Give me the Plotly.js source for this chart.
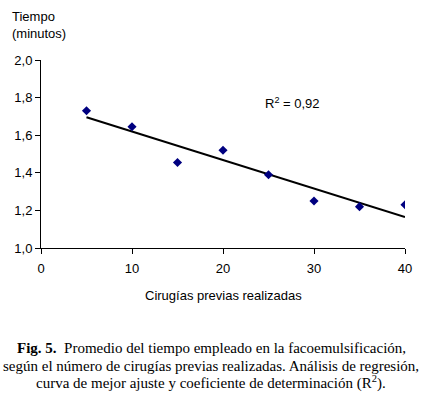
<!DOCTYPE html>
<html><head><meta charset="utf-8">
<script src="https://cdn.plot.ly/plotly-3.0.1.min.js"></script>
<style>html,body{margin:0;padding:0;background:#fff;}#chart{width:423px;height:398px;}</style>
</head><body><div id="chart"></div>
<script>
const cirugias = [5, 10, 15, 20, 25, 30, 35, 40];
const tiempo = [1.73, 1.645, 1.455, 1.52, 1.39, 1.25, 1.22, 1.23];
const xTicks = [0, 10, 20, 30, 40];
const yTicks = [1.0, 1.2, 1.4, 1.6, 1.8, 2.0];
const captionLines = [
  '<b>Fig. 5.</b>  Promedio del tiempo empleado en la facoemulsificación,',
  'según el número de cirugías previas realizadas. Análisis de regresión,',
  'curva de mejor ajuste y coeficiente de determinación (R<sup>2</sup>).'
];

// least-squares trend line from the data
const n = cirugias.length;
const mx = cirugias.reduce((a,b)=>a+b,0)/n;
const my = tiempo.reduce((a,b)=>a+b,0)/n;
let sxy=0, sxx=0;
for (let i=0;i<n;i++){ sxy += (cirugias[i]-mx)*(tiempo[i]-my); sxx += (cirugias[i]-mx)**2; }
const slope = sxy/sxx, icpt = my - slope*mx;
const xFit = [cirugias[0], cirugias[n-1]];
const yFit = xFit.map(x => icpt + slope*x);

const font = {family: 'Liberation Sans, Arial, sans-serif', size: 13, color: '#000'};
const serif = {family: 'Liberation Serif, Times New Roman, serif', size: 15, color: '#000'};

const traces = [
  {x: xFit, y: yFit, mode: 'lines', line: {color: '#000', width: 2}, hoverinfo: 'skip'},
  {x: cirugias, y: tiempo, mode: 'markers', marker: {symbol: 'diamond', color: '#000080', size: 7}}
];

const captionY = [-0.532, -0.626, -0.717];
const captionAnn = captionLines.map((t, i) => ({
  text: t, xref: 'paper', yref: 'paper', x: 0.468, y: captionY[i],
  xanchor: 'center', yanchor: 'middle', align: 'center', showarrow: false, font: serif
}));

const layout = {
  width: 423, height: 398,
  margin: {l: 41, r: 18, t: 60, b: 150},
  paper_bgcolor: '#fff', plot_bgcolor: '#fff',
  showlegend: false,
  separators: ',.',
  font: font,
  xaxis: {range: [0, 40], tickvals: xTicks, ticks: 'outside', ticklen: 5, tickcolor: '#000',
          showline: true, linecolor: '#000', linewidth: 1, showgrid: false, zeroline: false,
          tickfont: font, ticklabelstandoff: 3, fixedrange: true},
  yaxis: {range: [1.0, 2.0], tickvals: yTicks, tickformat: '.1f', ticks: 'outside', ticklen: 5, tickcolor: '#000',
          showline: true, linecolor: '#000', linewidth: 1, showgrid: false, zeroline: false,
          tickfont: font, fixedrange: true},
  annotations: [
    {text: 'Tiempo<br>(minutos)', xref: 'paper', yref: 'paper', x: -0.085, y: 1.186, xanchor: 'left', yanchor: 'middle', align: 'left', showarrow: false, font: font},
    {text: 'R<sup>2</sup> = 0,92', xref: 'x', yref: 'y', x: 27.6, y: 1.77, showarrow: false, font: font},
    {text: 'Cirugías previas realizadas', xref: 'paper', yref: 'paper', x: 0.5, y: -0.25, xanchor: 'center', yanchor: 'middle', showarrow: false, font: font}
  ].concat(captionAnn)
};
Plotly.newPlot('chart', traces, layout, {displayModeBar: false, staticPlot: true});
</script></body></html>
